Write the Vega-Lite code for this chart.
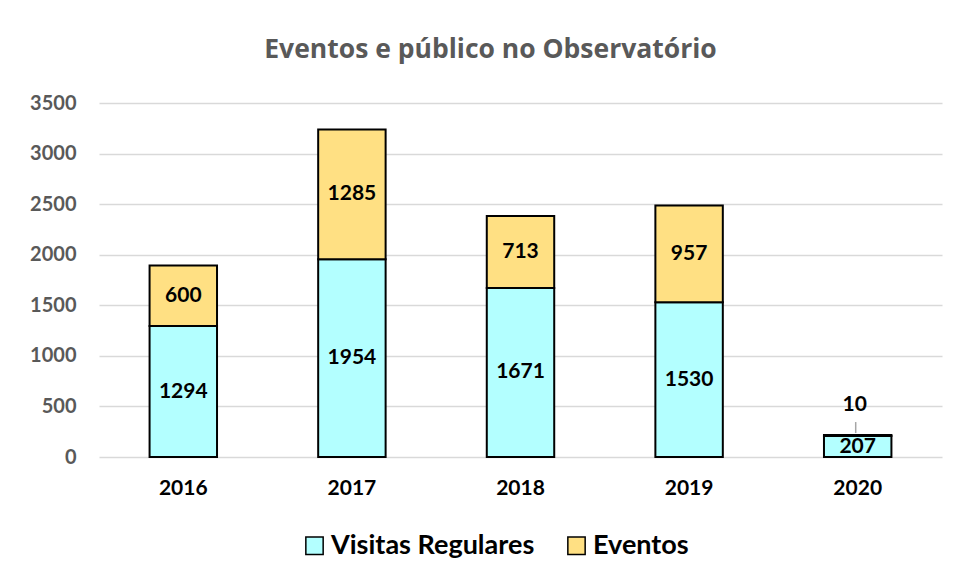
{
  "$schema": "https://vega.github.io/schema/vega-lite/v6.json",
  "autosize": {"type": "none"},
  "width": 843,
  "height": 354,
  "padding": {"left": 99, "top": 103, "right": 15, "bottom": 124},
  "background": "white",
  "config": {
    "font": "Lato",
    "view": {"stroke": null}
  },
  "title": {
    "text": "Eventos e público no Observatório",
    "font": "Open Sans",
    "fontSize": 26.5,
    "fontWeight": "bold",
    "color": "#595959",
    "anchor": "middle",
    "frame": "group",
    "dx": -30,
    "offset": 30
  },
  "data": {
    "values": [
      {"year": "2016", "type": "Visitas Regulares", "value": 1294},
      {"year": "2016", "type": "Eventos", "value": 600},
      {"year": "2017", "type": "Visitas Regulares", "value": 1954},
      {"year": "2017", "type": "Eventos", "value": 1285},
      {"year": "2018", "type": "Visitas Regulares", "value": 1671},
      {"year": "2018", "type": "Eventos", "value": 713},
      {"year": "2019", "type": "Visitas Regulares", "value": 1530},
      {"year": "2019", "type": "Eventos", "value": 957},
      {"year": "2020", "type": "Visitas Regulares", "value": 207},
      {"year": "2020", "type": "Eventos", "value": 10}
    ]
  },
  "transform": [
    {"stack": "value", "groupby": ["year"], "sort": [{"field": "type", "order": "descending"}], "as": ["v0", "v1"]},
    {"calculate": "(datum.v0 + datum.v1) / 2", "as": "mid"}
  ],
  "encoding": {
    "x": {
      "field": "year",
      "type": "nominal",
      "scale": {"paddingInner": 0.6, "paddingOuter": 0.3},
      "axis": {
        "title": null,
        "labelAngle": 0,
        "labelFontSize": 21,
        "labelFontWeight": "bold",
        "labelColor": "black",
        "labelPadding": 20,
        "ticks": false,
        "domain": false
      }
    }
  },
  "layer": [
    {
      "mark": {"type": "bar", "stroke": "black", "strokeWidth": 2},
      "encoding": {
        "y": {
          "field": "v1",
          "type": "quantitative",
          "scale": {"domain": [0, 3500], "nice": false},
          "axis": {
            "title": null,
            "values": [0, 500, 1000, 1500, 2000, 2500, 3000, 3500],
            "format": "d",
            "labelFontSize": 20,
            "labelFontWeight": "bold",
            "labelColor": "#595959",
            "labelPadding": 23,
            "ticks": false,
            "domain": false,
            "gridColor": "#D9D9D9",
            "gridWidth": 1.5
          }
        },
        "y2": {"field": "v0"},
        "color": {
          "field": "type",
          "type": "nominal",
          "scale": {"domain": ["Visitas Regulares", "Eventos"], "range": ["#B3FFFF", "#FFE083"]},
          "legend": {
            "title": null,
            "orient": "none",
            "direction": "horizontal",
            "legendX": 202,
            "legendY": 429,
            "symbolType": "square",
            "symbolSize": 300,
            "symbolStrokeColor": "black",
            "symbolStrokeWidth": 1.5,
            "labelFontSize": 27,
            "labelFontWeight": "bold",
            "labelColor": "black",
            "labelLimit": 400,
            "labelOffset": 3,
            "columnPadding": 28
          }
        }
      }
    },
    {
      "transform": [{"filter": "datum.value >= 100"}],
      "mark": {"type": "text", "fontSize": 21, "fontWeight": "bold", "color": "black", "baseline": "middle"},
      "encoding": {
        "y": {"field": "mid", "type": "quantitative"},
        "text": {"field": "value", "type": "quantitative"}
      }
    },
    {
      "transform": [{"filter": "datum.value < 100"}],
      "mark": {"type": "text", "fontSize": 21, "fontWeight": "bold", "color": "black", "baseline": "middle", "dy": -30, "dx": -3},
      "encoding": {
        "y": {"field": "v1", "type": "quantitative"},
        "text": {"field": "value", "type": "quantitative"}
      }
    },
    {
      "transform": [{"filter": "datum.value < 100"}],
      "mark": {"type": "rule", "color": "#A6A6A6", "strokeWidth": 1.5, "yOffset": -2, "y2Offset": -13, "xOffset": -2},
      "encoding": {
        "y": {"field": "v1", "type": "quantitative"},
        "y2": {"field": "v1"}
      }
    }
  ]
}
